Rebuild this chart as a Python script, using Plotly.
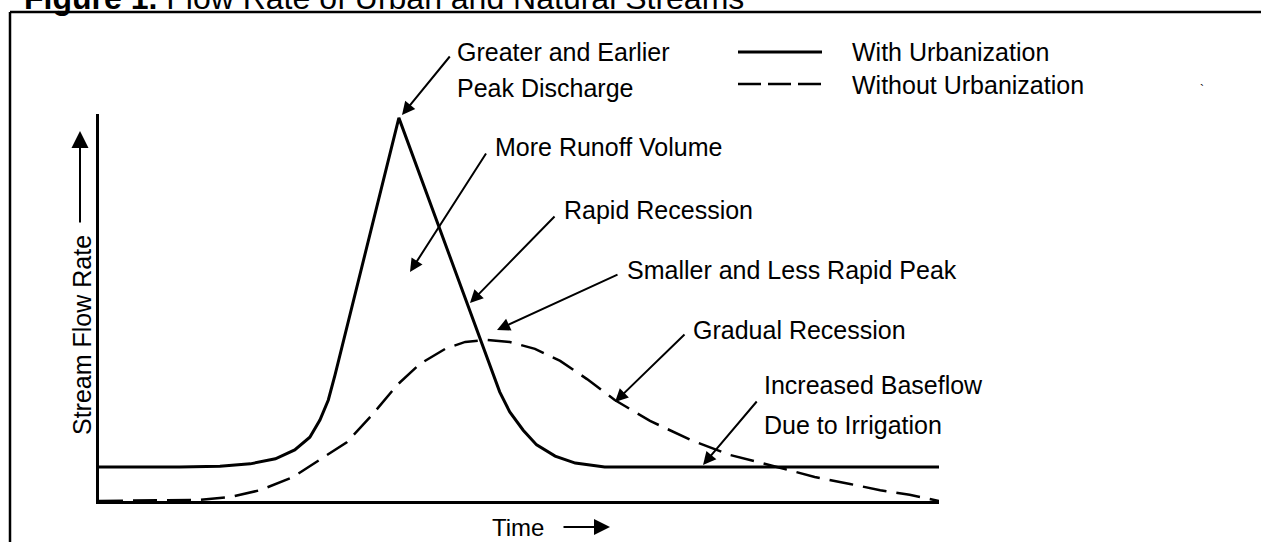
import plotly.graph_objects as go

# ---------------- data (time units 0-100, flow units 0-100) ----------------
time_with = [0.0, 9.6, 14.4, 18.0, 21.0, 23.3, 25.1, 26.3, 27.3, 28.1, 35.7,
             46.8, 47.7, 48.9, 50.5, 52.1, 54.3, 56.7, 60.2, 100.0]
flow_with = [8.8, 8.8, 9.0, 9.6, 10.9, 13.2, 16.5, 20.9, 26.1, 32.6, 99.0,
             33.3, 28.2, 23.0, 18.3, 14.5, 11.6, 9.8, 8.8, 8.8]

time_without = [0.0, 12.0, 15.6, 19.2, 23.1, 26.3, 29.5, 32.5, 35.5, 38.2, 41.2,
                43.6, 46.2, 48.9, 51.9, 54.9, 58.1, 61.4, 65.6, 70.4, 75.1, 80.7,
                85.2, 89.4, 93.0, 96.5, 100.0]
flow_without = [0.0, 0.3, 1.0, 2.8, 6.2, 10.6, 15.2, 22.2, 30.0, 35.4, 39.3,
                41.1, 41.6, 41.1, 39.3, 36.2, 31.5, 26.1, 20.7, 15.8, 11.9, 8.8,
                6.2, 4.4, 2.8, 1.6, 0.0]

series_names = ["With Urbanization", "Without Urbanization"]
title_bold = "Figure 1."
title_rest = "Flow Rate of Urban and Natural Streams"
x_label = "Time"
y_label = "Stream Flow Rate"
callouts = ["Greater and Earlier", "Peak Discharge", "More Runoff Volume",
            "Rapid Recession", "Smaller and Less Rapid Peak", "Gradual Recession",
            "Increased Baseflow", "Due to Irrigation"]

# ---------------- layout helpers (pixel -> paper) ----------------
W, H = 1261, 542
PL, PR, PT, PB = 99, 939, 114, 501
def px(x):
    return (x - PL) / (PR - PL)
def py(y):
    return (PB - y) / (PB - PT)

FONT = "Liberation Sans, Arial, Helvetica, sans-serif"
FS = 25

fig = go.Figure()
fig.add_trace(go.Scatter(x=time_with, y=flow_with, mode="lines",
                         line=dict(color="black", width=3), name=series_names[0],
                         showlegend=False, hoverinfo="skip"))
fig.add_trace(go.Scatter(x=time_without, y=flow_without, mode="lines",
                         line=dict(color="black", width=2.5, dash="24px,10px"),
                         name=series_names[1], showlegend=False, hoverinfo="skip"))

ann = []
def text(t, x, y, size=FS, **kw):
    d = dict(text=t, x=px(x), y=py(y), xref="paper", yref="paper",
             xanchor="left", yanchor="middle", showarrow=False,
             font=dict(family=FONT, size=size, color="black"))
    d.update(kw)
    ann.append(d)

def arrow(tail, head, size=1.3, width=2):
    ann.append(dict(text="", x=px(head[0]), y=py(head[1]), xref="paper", yref="paper",
                    ax=tail[0] - head[0], ay=tail[1] - head[1], axref="pixel", ayref="pixel",
                    showarrow=True, arrowhead=2, arrowsize=size, arrowwidth=width,
                    arrowcolor="black", standoff=0, startstandoff=0))

# title (clipped at top like the scan)
text("<b>%s</b> %s" % (title_bold, title_rest), 22, -2, size=32)

# callouts
text(callouts[0], 455, 52)
text(callouts[1], 455, 88)
arrow((451, 55), (402, 115))
text(callouts[2], 493, 147)
arrow((487, 152), (410, 272))
text(callouts[3], 562, 210)
arrow((556, 215), (470, 303))
text(callouts[4], 625, 270)
arrow((619, 274), (497, 330))
text(callouts[5], 691, 330)
arrow((686, 333), (615, 402))
text(callouts[6], 762, 385)
text(callouts[7], 762, 425)
arrow((758, 400), (703, 465))

# legend keys
shapes = []
shapes.append(dict(type="line", xref="paper", yref="paper", x0=px(738), x1=px(822),
                   y0=py(52), y1=py(52), line=dict(color="black", width=3)))
shapes.append(dict(type="line", xref="paper", yref="paper", x0=px(738), x1=px(822),
                   y0=py(84), y1=py(84), line=dict(color="black", width=2.5, dash="23px,7px")))
text(series_names[0], 850, 52)
text(series_names[1], 850, 85)

# axis labels with arrows
text(x_label, 490, 527, size=24)
arrow((562, 527), (610, 527), size=1.6)
text(y_label, 82, 335, textangle=-90, xanchor="center")
arrow((80, 224), (80, 131), size=1.7)

# page frame
shapes.append(dict(type="line", xref="paper", yref="paper", x0=px(10), x1=px(1265),
                   y0=py(12), y1=py(12), line=dict(color="black", width=2.5)))
shapes.append(dict(type="line", xref="paper", yref="paper", x0=px(10), x1=px(10),
                   y0=py(12), y1=py(546), line=dict(color="black", width=2.5)))

# scan speck
text("`", 1198, 90, size=12)

fig.update_layout(
    width=W, height=H,
    margin=dict(l=PL, r=W - PR, t=PT, b=H - PB),
    paper_bgcolor="white", plot_bgcolor="white",
    annotations=ann, shapes=shapes,
    xaxis=dict(range=[0, 100], showgrid=False, zeroline=False, showticklabels=False,
               ticks="", showline=True, linecolor="black", linewidth=2.5, fixedrange=True),
    yaxis=dict(range=[0, 100], showgrid=False, zeroline=False, showticklabels=False,
               ticks="", showline=True, linecolor="black", linewidth=2.5, fixedrange=True),
    showlegend=False,
)

fig.write_html("out.html", config={"displayModeBar": False},
               post_script="document.body.style.margin='0';"
                           "document.documentElement.style.overflow='hidden';")
